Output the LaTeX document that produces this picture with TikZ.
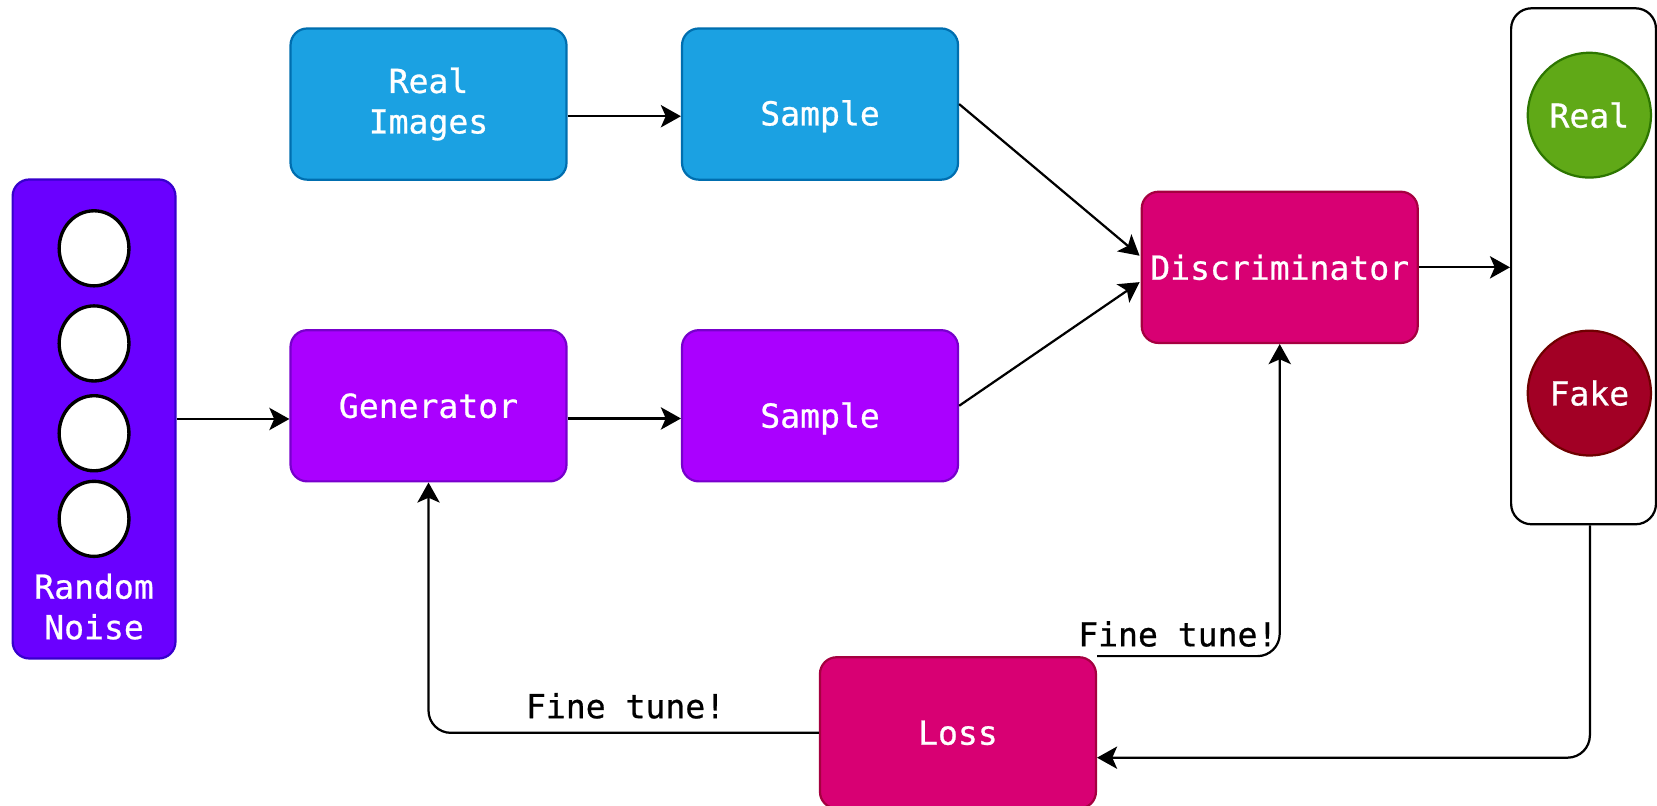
\documentclass[tikz,border=0pt]{standalone}
\usepackage{fontspec}
\setmonofont{DejaVu Sans Mono}
\newfontfamily\labelmono[FakeBold=0.7]{DejaVu Sans Mono}
\usetikzlibrary{arrows.meta,calc,shapes.geometric}

\definecolor{blueFill}{HTML}{1BA1E2}
\definecolor{blueLine}{HTML}{006EAF}
\definecolor{genFill}{HTML}{AA00FF}
\definecolor{genLine}{HTML}{7700CC}
\definecolor{noiseFill}{HTML}{6A00FF}
\definecolor{noiseLine}{HTML}{3700CC}
\definecolor{pinkFill}{HTML}{D80073}
\definecolor{pinkLine}{HTML}{A50040}
\definecolor{greenFill}{HTML}{60A917}
\definecolor{greenLine}{HTML}{2D7600}
\definecolor{redFill}{HTML}{A20025}
\definecolor{redLine}{HTML}{6F0000}

\tikzset{
  lbl/.style={font=\labelmono\fontsize{8.9}{10.9}\selectfont, inner sep=1pt, align=center},
  block/.style={lbl, draw, rounded corners=4.5pt, line width=0.6pt, text=white,
                minimum width=2.61cm, minimum height=1.43cm},
  bubble/.style={lbl, ellipse, draw, line width=0.6pt, text=white,
                 minimum width=1.06cm, minimum height=1.18cm},
  unit/.style={ellipse, draw=black, fill=white, line width=0.9pt,
               minimum width=0.66cm, minimum height=0.71cm, inner sep=0pt},
  arr/.style={draw, line width=0.6pt, -{Stealth[length=5.4pt, width=6pt, inset=1.3pt]}},
}

\begin{document}
\begin{tikzpicture}[x=0.01cm, y=-0.01cm]
\useasboundingbox (0,0) rectangle (1568,762);
\clip (0,0) rectangle (1568,762);

% noise input column
\node[block, fill=noiseFill, draw=noiseLine, minimum width=1.54cm, minimum height=4.53cm] (noise) at (89,396.5) {};
\node[unit] (n1) at (89,235) {};
\node[unit] (n2) at (89,325) {};
\node[unit] (n3) at (89,410) {};
\node[unit] (n4) at (89,491) {};
\node[lbl, text=white] (noiseTxt) at (89,574) {Random\\Noise};

% real branch
\node[block, fill=blueFill, draw=blueLine] (real) at (405.5,98.5) {Real\\Images};
\node[block, fill=blueFill, draw=blueLine] (sampA) at (776,98.5) {};
\node[lbl, text=white] (sampAtxt) at (776,110) {Sample};

% generated branch
\node[block, fill=genFill, draw=genLine] (gen) at (405.5,384) {Generator};
\node[block, fill=genFill, draw=genLine] (sampB) at (776,384) {};
\node[lbl, text=white] (sampBtxt) at (776,396) {Sample};

% discriminator and loss
\node[block, fill=pinkFill, draw=pinkLine] (disc) at (1211,253) {Discriminator};
\node[block, fill=pinkFill, draw=pinkLine] (loss) at (906.5,693.5) {Loss};

% decision panel
\node[draw=black, fill=white, rounded corners=5.5pt, line width=0.6pt,
      minimum width=1.37cm, minimum height=4.88cm] (out) at (1498.5,252) {};
\node[bubble, fill=greenFill, draw=greenLine] (realOut) at (1504,109) {Real};
\node[bubble, fill=redFill, draw=redLine] (fakeOut) at (1504,372) {Fake};

% forward connections
\draw[arr] (noise.east) -- (noise.east -| gen.west);
\draw[arr] ($(real.east)+(0,11.5)$) -- ($(sampA.west)+(0,11.5)$);
\draw[arr] ($(gen.east)+(0,12)$) -- ($(sampB.west)+(0,12)$);
\draw[arr] (sampA.east) -- ($(disc.west)+(-1,-11)$);
\draw[arr] (sampB.east) -- ($(disc.west)+(-1,14)$);
\draw[arr] (disc.east) -- (disc.east -| out.west);

% feedback loop
\coordinate (outFoot) at ($(out.south)+(6,0)$);
\draw[arr, rounded corners=6pt] (outFoot) |- ($(loss.east)+(0,23.5)$);
\draw[arr, rounded corners=6pt] (loss.north east) -| (disc.south);
\draw[arr, rounded corners=6pt] (loss.west) -| (gen.south);

\node[lbl, anchor=east] (tuneD) at (1213,600) {Fine tune!};
\node[lbl] (tuneG) at (592,668) {Fine tune!};
\end{tikzpicture}
\end{document}
